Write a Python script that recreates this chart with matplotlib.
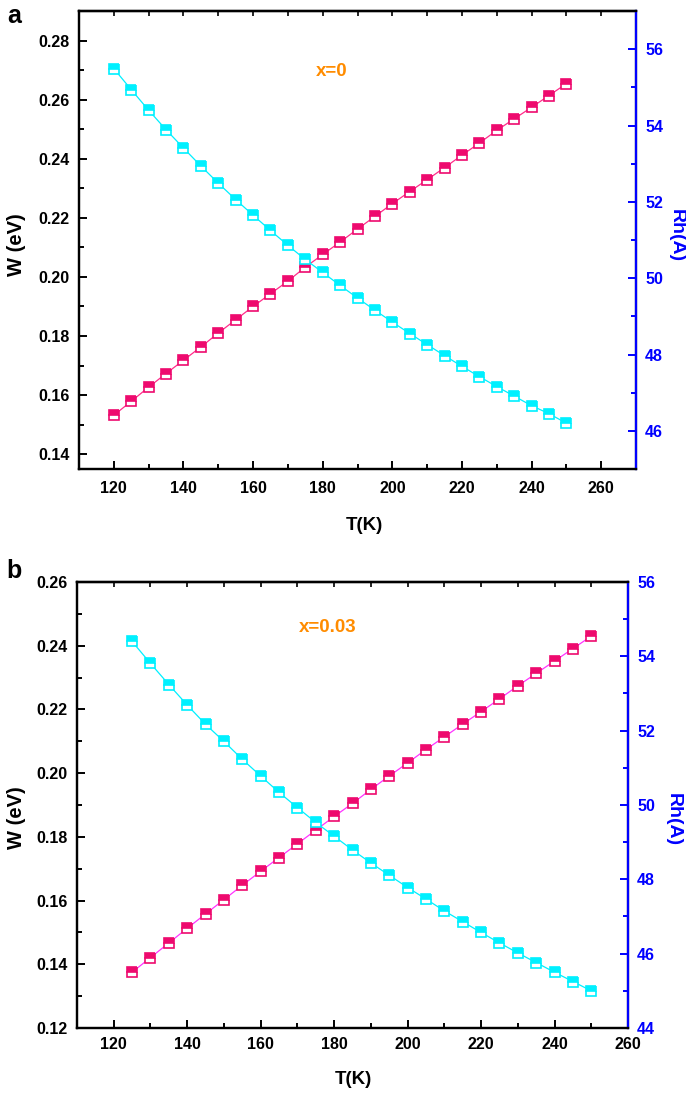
import matplotlib
matplotlib.use("Agg")
import matplotlib.pyplot as plt
from matplotlib.ticker import MultipleLocator, NullFormatter

plt.rcParams['font.family'] = ['Liberation Sans', 'DejaVu Sans']
plt.rcParams['font.weight'] = 'bold'

# ---- data panel a (x=0) ----
T_a = [120, 125, 130, 135, 140, 145, 150, 155, 160, 165, 170, 175, 180, 185,
       190, 195, 200, 205, 210, 215, 220, 225, 230, 235, 240, 245, 250]
W_a = [0.1532, 0.1579, 0.1627, 0.1673, 0.1718, 0.1763, 0.1810, 0.1855, 0.1900,
       0.1943, 0.1986, 0.2033, 0.2076, 0.2118, 0.2162, 0.2205, 0.2248, 0.2289,
       0.2329, 0.2370, 0.2412, 0.2453, 0.2496, 0.2535, 0.2574, 0.2614, 0.2654]
Rh_a = [55.49, 54.94, 54.40, 53.89, 53.41, 52.94, 52.49, 52.06, 51.65, 51.25,
        50.86, 50.49, 50.15, 49.81, 49.48, 49.16, 48.85, 48.55, 48.26, 47.97,
        47.69, 47.42, 47.16, 46.91, 46.66, 46.45, 46.20]

# ---- data panel b (x=0.03) ----
T_b = [125, 130, 135, 140, 145, 150, 155, 160, 165, 170, 175, 180, 185,
       190, 195, 200, 205, 210, 215, 220, 225, 230, 235, 240, 245, 250]
W_b = [0.1375, 0.1421, 0.1467, 0.1513, 0.1558, 0.1603, 0.1648, 0.1692, 0.1735,
       0.1778, 0.1821, 0.1864, 0.1905, 0.1949, 0.1991, 0.2032, 0.2074, 0.2114,
       0.2154, 0.2193, 0.2233, 0.2274, 0.2313, 0.2352, 0.2391, 0.2430]
Rh_b = [54.40, 53.81, 53.24, 52.69, 52.17, 51.71, 51.23, 50.78, 50.34, 49.93,
        49.53, 49.16, 48.79, 48.44, 48.11, 47.78, 47.47, 47.15, 46.86, 46.57,
        46.29, 46.02, 45.76, 45.50, 45.25, 45.00]

T_ticks = [120, 140, 160, 180, 200, 220, 240, 260]

PINK = '#EE0A6E'
PINK_LINE_A = '#FF2D8A'
PINK_LINE_B = '#FF33FF'
CYAN = '#00F0FF'
BLUE = '#0000FF'
ORANGE = '#FF8C00'

W_PX, H_PX = 686, 1094
fig = plt.figure(figsize=(W_PX / 100, H_PX / 100), dpi=100)

TICK_FS = 11.5


def rect(l, t, r, b):
    return [l / W_PX, 1 - b / H_PX, (r - l) / W_PX, (b - t) / H_PX]


def panel(box, T, W, Rh, xlim, ylim, y2lim, pink_line, xpad):
    ax = fig.add_axes(rect(*box))
    ax2 = ax.twinx()
    ax.plot(T, W, '-', color=pink_line, lw=0.9, marker='s', ms=7.5,
            mfc=PINK, mec=PINK, mfcalt='white', fillstyle='top', mew=1.2, zorder=3)
    ax2.plot(T, Rh, '-', color=CYAN, lw=0.9, marker='s', ms=7.5,
             mfc=CYAN, mec=CYAN, mfcalt='white', fillstyle='top', mew=1.2, zorder=3)
    ax.set_xlim(*xlim)
    ax.set_ylim(*ylim)
    ax2.set_ylim(*y2lim)
    ax.set_xticks(T_ticks)
    ax.xaxis.set_minor_locator(MultipleLocator(10))
    ax.yaxis.set_major_locator(MultipleLocator(0.02))
    ax.yaxis.set_minor_locator(MultipleLocator(0.01))
    ax.yaxis.set_major_formatter(plt.FuncFormatter(lambda v, p: f"{v:.2f}"))
    ax2.yaxis.set_major_locator(MultipleLocator(2))
    ax2.yaxis.set_minor_locator(MultipleLocator(1))
    for a in (ax, ax2):
        for s in a.spines.values():
            s.set_linewidth(1.6)
    ax2.spines['right'].set_color(BLUE)
    ax.tick_params(which='both', direction='in', width=1.4, labelsize=TICK_FS,
                   top=False, right=False)
    ax.tick_params(which='major', length=6)
    ax.tick_params(which='minor', length=3.5)
    ax.tick_params(axis='x', pad=xpad)
    ax.tick_params(axis='y', pad=6.5)
    ax2.tick_params(which='both', direction='in', width=1.4, labelsize=TICK_FS,
                    colors=BLUE, pad=6.5)
    ax2.tick_params(which='major', length=6)
    ax2.tick_params(which='minor', length=3.5)
    # top axis: small ticks every 10 K, no labels
    sec = ax.secondary_xaxis('top')
    sec.xaxis.set_major_locator(MultipleLocator(10))
    sec.xaxis.set_major_formatter(NullFormatter())
    sec.tick_params(direction='in', length=3.5, width=1.2)
    sec.spines['top'].set_linewidth(1.6)
    for lab in ax.get_xticklabels() + ax.get_yticklabels() + ax2.get_yticklabels():
        lab.set_fontweight('bold')
    return ax, ax2


panel((79, 11, 636, 469), T_a, W_a, Rh_a, (110, 270), (0.135, 0.29), (45, 57),
      PINK_LINE_A, 8.5)
panel((77, 582, 628, 1028), T_b, W_b, Rh_b, (110, 260), (0.12, 0.26), (44, 56),
      PINK_LINE_B, 6.5)


def ftext(x, y, s, **kw):
    fig.text(x / W_PX, 1 - y / H_PX, s, ha='center', va='center',
             fontweight='bold', **kw)


ftext(14, 16, 'a', fontsize=18)
ftext(14, 571, 'b', fontsize=18)
ftext(364, 525, 'T(K)', fontsize=13.5)
ftext(353, 1080, 'T(K)', fontsize=13.5)
ftext(17, 245, 'W (eV)', fontsize=14.5, rotation=90)
ftext(17, 818, 'W (eV)', fontsize=14.5, rotation=90)
ftext(676, 236, 'Rh(A)', fontsize=14, rotation=-90, color=BLUE)
ftext(673, 820, 'Rh(A)', fontsize=14, rotation=-90, color=BLUE)
ftext(332, 71, 'x=0', fontsize=13.5, color=ORANGE)
ftext(328, 627, 'x=0.03', fontsize=13.5, color=ORANGE)

fig.savefig('out.png', dpi=100)
